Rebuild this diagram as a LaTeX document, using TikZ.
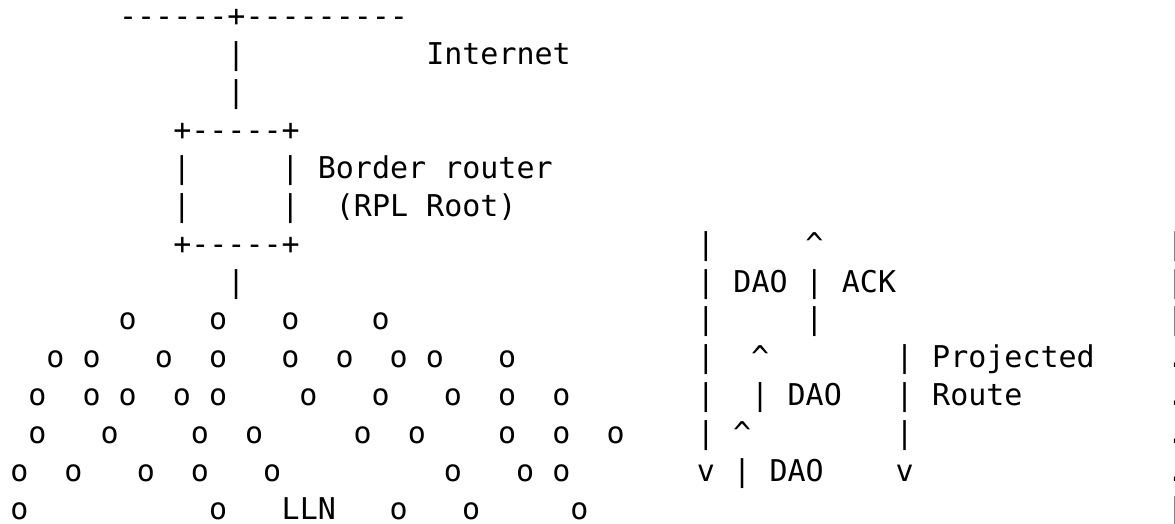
\documentclass[tikz,border=0pt]{standalone}
\usepackage{fontspec}
\setmonofont{DejaVu Sans Mono}
\usepackage{tikz}

\tikzset{
  ascii/.style={font=\ttfamily\fontsize{15pt}{18pt}\selectfont, inner sep=0pt, text height=7.8pt, text depth=0pt},
  word/.style={ascii, anchor=west},
}

\begin{document}
\begin{tikzpicture}[x=9.035pt, y=-18.95pt]
        \useasboundingbox (-1.068,-0.5) rectangle (63.957,13.3);

        % Internet uplink
        \node[word] (uplink) at (5.5,0) {------+---------};
        \node[word] (inet) at (22.5,1) {Internet};
        \node[ascii] (up1) at (12,1) {|};
        \node[ascii] (up2) at (12,2) {|};

        % Border router box
        \node[word] (brtop) at (8.5,3) {+-----+};
        \node[ascii] (brl1) at (9,4) {|};
        \node[ascii] (brr1) at (15,4) {|};
        \node[ascii] (brl2) at (9,5) {|};
        \node[ascii] (brr2) at (15,5) {|};
        \node[word] (brbot) at (8.5,6) {+-----+};
        \node[word] (brname) at (16.5,4) {Border router};
        \node[word] (rootname) at (17.5,5) {(RPL Root)};
        \node[ascii] (down) at (12,7) {|};

        % LLN nodes, row by row
        \foreach \r/\cols in {8/{6,11,15,20}, 9/{2,4,8,11,15,18,21,23,27},
                10/{1,4,6,9,11,16,20,24,27,30}, 11/{1,5,10,13,19,22,27,30,33},
                12/{0,3,7,10,14,24,28,30}, 13/{0,11,21,25,31}}{
            \foreach \c in \cols
                \node[ascii] (o-\r-\c) at (\c,\r) {o};
        }
        \node[word] (lln) at (14.5,13) {LLN};

        % DAO from the node up to the root
        \foreach \r in {6,...,11}
            \node[ascii] (dao-\r) at (38,\r) {|};
        \node[ascii] (daotip) at (38,12) {v};
        \node[word] (dao) at (39.5,7) {DAO};

        % ACK back down
        \node[ascii] (acktip) at (44,6) {\textasciicircum};
        \node[ascii] (ack1) at (44,7) {|};
        \node[ascii] (ack2) at (44,8) {|};
        \node[word] (ack) at (45.5,7) {ACK};

        % Projected DAO hops
        \node[ascii] (hop1tip) at (41,9) {\textasciicircum};
        \node[ascii] (hop1) at (41,10) {|};
        \node[word] (hop1dao) at (42.5,10) {DAO};
        \node[ascii] (hop2tip) at (40,11) {\textasciicircum};
        \node[ascii] (hop2) at (40,12) {|};
        \node[word] (hop2dao) at (41.5,12) {DAO};

        % Projected route
        \foreach \r in {9,10,11}
            \node[ascii] (pr-\r) at (49,\r) {|};
        \node[ascii] (prtip) at (49,12) {v};
        \node[word] (proj) at (50.5,9) {Projected};
        \node[word] (route) at (50.5,10) {Route};

        % Right edge
        \foreach \r in {6,7,8,13}
            \node[ascii] (edge-\r) at (64,\r) {|};
        \foreach \r in {9,...,12}
            \node[ascii] (dot-\r) at (64,\r) {.};

    \end{tikzpicture}
\end{document}
